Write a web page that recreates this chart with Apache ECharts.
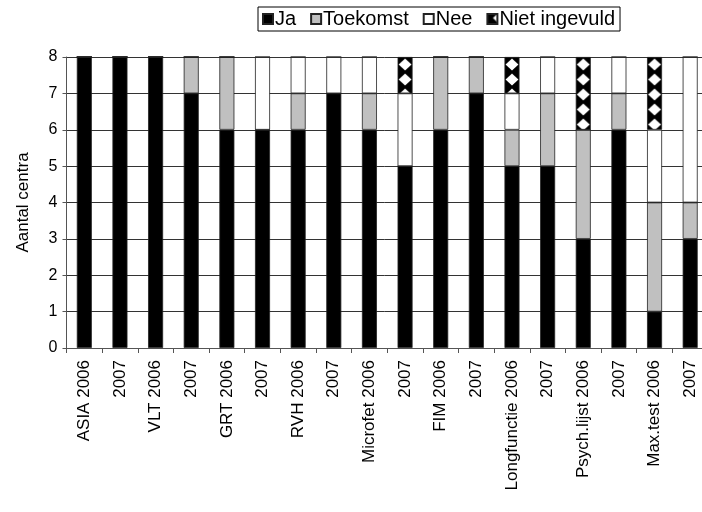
<!DOCTYPE html>
<html>
<head>
<meta charset="utf-8">
<script src="https://cdn.jsdelivr.net/npm/echarts@6/dist/echarts.min.js"></script>
<style>
html,body{margin:0;padding:0;background:#fff;}
#chart{width:702px;height:512px;}
</style>
</head>
<body>
<div id="chart"></div>
<script>
var categories = ['ASIA 2006','2007','VLT 2006','2007','GRT 2006','2007','RVH 2006','2007','Microfet 2006','2007','FIM 2006','2007','Longfunctie 2006','2007','Psych.lijst 2006','2007','Max.test 2006','2007'];
var ja        = [8,8,8,7,6,6,6,7,6,5,6,7,5,5,3,6,1,3];
var toekomst  = [0,0,0,1,2,0,1,0,1,0,2,1,1,2,3,1,3,1];
var nee       = [0,0,0,0,0,2,1,1,1,2,0,0,1,1,0,1,2,4];
var nietIngevuld = [0,0,0,0,0,0,0,0,0,1,0,0,1,0,2,0,2,0];
var yTicks = [0,1,2,3,4,5,6,7,8];

var gridLeft = 66.5, gridWidth = 641.5, gridTop = 57, gridBottom = 164;
var catW = gridWidth / categories.length;

// pattern tile: black with white diamond
var tileW = 30, tileH = 15;
var cv = document.createElement('canvas');
cv.width = tileW; cv.height = tileH;
var cx = cv.getContext('2d');
cx.fillStyle = '#000'; cx.fillRect(0,0,tileW,tileH);
cx.fillStyle = '#fff';
cx.beginPath();
cx.moveTo(tileW/2, 1.5);
cx.lineTo(tileW/2 + 6.5, tileH/2);
cx.lineTo(tileW/2, tileH - 1.5);
cx.lineTo(tileW/2 - 6.5, tileH/2);
cx.closePath(); cx.fill();
function patternAt(i) {
  return {image: cv, repeat: 'repeat', x: gridLeft + catW * (i + 0.5) - tileW / 2, y: gridTop};
}
var legendPattern = {image: cv, repeat: 'repeat', x: 492 - tileW / 2, y: 19 - tileH / 2};

function mk(name, data, color, perItem) {
  return {
    name: name, type: 'bar', stack: 'total',
    data: perItem ? data.map(function (v, i) { return {value: v, itemStyle: {color: perItem(i)}}; }) : data,
    barWidth: 15,
    itemStyle: {color: color, borderColor: '#222', borderWidth: 0.8},
    emphasis: {disabled: true}
  };
}

var chart = echarts.init(document.getElementById('chart'), null, {renderer: 'canvas'});
chart.setOption({
  animation: false,
  backgroundColor: '#fff',
  textStyle: {fontFamily: 'Liberation Sans, Arial, sans-serif'},
  legend: {
    left: 258, top: 7,
    padding: [2, 5, 2, 4],
    borderColor: '#000', borderWidth: 1,
    itemWidth: 10, itemHeight: 10, itemGap: 14,
    icon: 'rect',
    textStyle: {fontSize: 20, color: '#000', padding: [0,0,0,-3]},
    data: ['Ja','Toekomst','Nee','Niet ingevuld']
  },
  grid: {left: gridLeft, width: gridWidth, top: gridTop, bottom: gridBottom, outerBoundsMode: 'none', containLabel: false},
  xAxis: {
    type: 'category', data: categories,
    axisLine: {lineStyle: {color: '#555', width: 1}},
    axisTick: {show: true, length: 5, alignWithLabel: false, lineStyle: {color: '#555'}},
    axisLabel: {rotate: 90, interval: 0, fontSize: 17, color: '#000', margin: 12}
  },
  yAxis: {
    type: 'value', min: 0, max: 8, interval: 1,
    name: 'Aantal centra', nameLocation: 'middle', nameGap: 35,
    nameTextStyle: {fontSize: 17, color: '#000'},
    axisLine: {show: true, lineStyle: {color: '#555', width: 1}},
    axisTick: {show: true, length: 4, lineStyle: {color: '#555'}},
    axisLabel: {fontSize: 16, color: '#000', margin: 9},
    splitLine: {show: true, lineStyle: {color: '#333', width: 1}}
  },
  series: [
    mk('Ja', ja, '#000'),
    mk('Toekomst', toekomst, '#c0c0c0'),
    mk('Nee', nee, '#fff'),
    mk('Niet ingevuld', nietIngevuld, legendPattern, patternAt)
  ]
});
</script>
</body>
</html>
